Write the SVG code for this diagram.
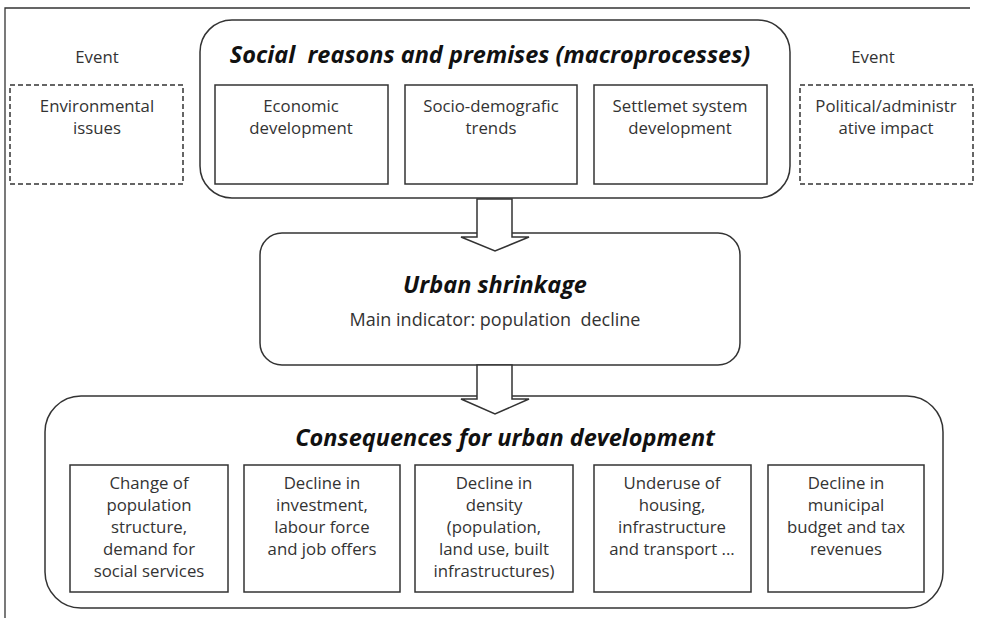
<svg xmlns="http://www.w3.org/2000/svg" width="981" height="618" viewBox="0 0 981 618">
<style>
.frame{fill:none;stroke:#333;stroke-width:1.3}
.rbox{fill:#fff;stroke:#333;stroke-width:1.5}
.box{fill:#fff;stroke:#333;stroke-width:1.5}
.dash{fill:#fff;stroke:#333;stroke-width:1.5;stroke-dasharray:5,3}
.arrow{fill:#fff;stroke:#333;stroke-width:1.5;stroke-linejoin:miter}
text{font-family:"Open Sans","Liberation Sans",sans-serif;fill:#333;text-anchor:middle}
.t{font-size:16.8px}
.m{font-size:18px}
.h{font-size:23.5px;font-weight:bold;font-style:italic;fill:#111}
</style>
<rect width="981" height="618" fill="#fff"/>
<path class="frame" d="M5,618 V8 H970"/>

<g id="event-left">
<text class="t" x="97" y="63">Event</text>
<rect class="dash" x="10" y="85" width="173" height="99"/>
<text class="t" x="97" y="112">Environmental</text>
<text class="t" x="97" y="134">issues</text>
</g>

<g id="event-right">
<text class="t" x="873" y="63">Event</text>
<rect class="dash" x="800" y="85" width="173" height="99"/>
<text class="t" x="886" y="112">Political/administr</text>
<text class="t" x="886" y="134">ative impact</text>
</g>

<g id="social">
<rect class="rbox" x="200" y="20" width="590" height="178" rx="32" ry="32"/>
<text class="h" x="490" y="63" xml:space="preserve">Social  reasons and premises (macroprocesses)</text>
</g>
<g id="economic">
<rect class="box" x="215" y="85" width="173" height="99"/>
<text class="t" x="301" y="112">Economic</text>
<text class="t" x="301" y="134">development</text>
</g>
<g id="sociodemo">
<rect class="box" x="405" y="85" width="172" height="99"/>
<text class="t" x="491" y="112">Socio-demografic</text>
<text class="t" x="491" y="134">trends</text>
</g>
<g id="settlement">
<rect class="box" x="594" y="85" width="173" height="99"/>
<text class="t" x="680" y="112">Settlemet system</text>
<text class="t" x="680" y="134">development</text>
</g>

<g id="shrinkage">
<rect class="rbox" x="260" y="233" width="480" height="132" rx="22" ry="22"/>
<text class="h" x="495" y="293">Urban shrinkage</text>
<text class="m" x="495" y="326" xml:space="preserve">Main indicator: population  decline</text>
</g>

<g id="consequences">
<rect class="rbox" x="45" y="396" width="898" height="212" rx="36" ry="36"/>
<text class="h" x="505" y="446">Consequences for urban development</text>
</g>
<g id="c1">
<rect class="box" x="70" y="465" width="158" height="127"/>
<text class="t" x="149" y="489">Change of</text>
<text class="t" x="149" y="511">population</text>
<text class="t" x="149" y="533">structure,</text>
<text class="t" x="149" y="555">demand for</text>
<text class="t" x="149" y="577">social services</text>
</g>
<g id="c2">
<rect class="box" x="244" y="465" width="156" height="127"/>
<text class="t" x="322" y="489">Decline in</text>
<text class="t" x="322" y="511">investment,</text>
<text class="t" x="322" y="533">labour force</text>
<text class="t" x="322" y="555">and job offers</text>
</g>
<g id="c3">
<rect class="box" x="415" y="465" width="158" height="127"/>
<text class="t" x="494" y="489">Decline in</text>
<text class="t" x="494" y="511">density</text>
<text class="t" x="494" y="533">(population,</text>
<text class="t" x="494" y="555">land use, built</text>
<text class="t" x="494" y="577">infrastructures)</text>
</g>
<g id="c4">
<rect class="box" x="594" y="465" width="157" height="127"/>
<text class="t" x="672" y="489">Underuse of</text>
<text class="t" x="672" y="511">housing,</text>
<text class="t" x="672" y="533">infrastructure</text>
<text class="t" x="672" y="555">and transport ...</text>
</g>
<g id="c5">
<rect class="box" x="768" y="465" width="156" height="127"/>
<text class="t" x="846" y="489">Decline in</text>
<text class="t" x="846" y="511">municipal</text>
<text class="t" x="846" y="533">budget and tax</text>
<text class="t" x="846" y="555">revenues</text>
</g>

<g id="connectors">
<polygon class="arrow" points="477,199 512,199 512,237 529,237 495,251 461,237 477,237"/>
<polygon class="arrow" points="477,365 512,365 512,399 529,399 495,414 461,399 477,399"/>
</g>
</svg>
